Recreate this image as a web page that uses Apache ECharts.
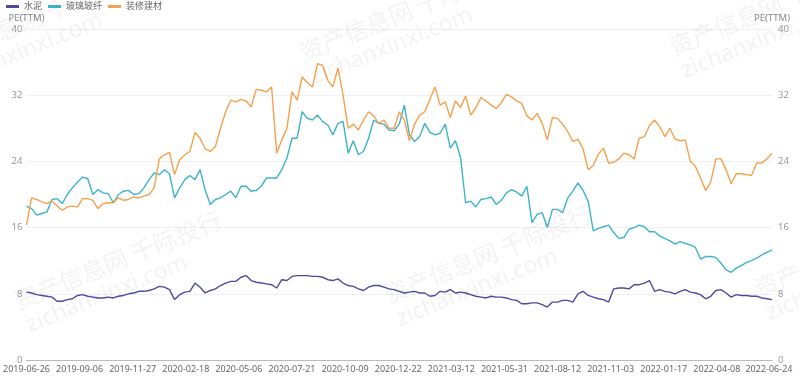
<!DOCTYPE html>
<html><head><meta charset="utf-8">
<script src="https://cdn.jsdelivr.net/npm/echarts@6/dist/echarts.min.js"></script>
<style>html,body{margin:0;padding:0;background:#fff}#c{width:800px;height:377px}</style>
</head><body><div id="c"></div>
<script>
const seriesNames = ['水泥', '玻璃玻纤', '装修建材'];
const startDate = '2019-06-26';
const endDate = '2022-06-29';
const holidays = ['2019-09-13','2019-10-01','2019-10-02','2019-10-03','2019-10-04','2019-10-07',
  '2020-01-01','2020-01-24','2020-01-27','2020-01-28','2020-01-29','2020-01-30','2020-01-31','2020-04-06',
  '2020-05-01','2020-05-04','2020-05-05','2020-06-25','2020-06-26','2020-10-01','2020-10-02','2020-10-05',
  '2020-10-06','2020-10-07','2020-10-08','2021-01-01','2021-02-11','2021-02-12','2021-02-15','2021-02-16',
  '2021-02-17','2021-04-05','2021-05-03','2021-05-04','2021-05-05','2021-06-14','2021-09-20','2021-09-21',
  '2021-10-01','2021-10-04','2021-10-05','2021-10-06','2021-10-07','2022-01-03','2022-01-31','2022-02-01',
  '2022-02-02','2022-02-03','2022-02-04','2022-04-04','2022-04-05','2022-05-02','2022-05-03','2022-05-04','2022-06-03'];
const tickLabels = ['2019-06-26','2019-09-06','2019-11-27','2020-02-18','2020-05-06','2020-07-21','2020-10-09',
  '2020-12-22','2021-03-12','2021-05-31','2021-08-12','2021-11-03','2022-01-17','2022-04-08','2022-06-24'];
const yTicks = [0, 8, 16, 24, 32, 40];
// values sampled every STEP trading days
const STEP = 5;
const cement = [
  8.2, 8.1, 7.9, 7.8, 7.7, 7.6, 7.1, 7.1, 7.3, 7.4,
  7.8, 7.9, 7.7, 7.6, 7.5, 7.5, 7.6, 7.5, 7.7, 7.8,
  8.0, 8.1, 8.3, 8.3, 8.4, 8.6, 8.9, 8.8, 8.5, 7.3,
  7.9, 8.2, 8.3, 9.3, 8.8, 8.1, 8.4, 8.6, 9.0, 9.3,
  9.5, 9.5, 10.0, 10.2, 9.6, 9.4, 9.3, 9.2, 9.1, 8.7,
  9.7, 9.6, 10.1, 10.2, 10.2, 10.2, 10.1, 10.1, 10.0, 9.7,
  9.6, 9.8, 9.3, 9.0, 8.9, 8.6, 8.4, 8.8, 9.0, 9.0,
  8.8, 8.6, 8.5, 8.3, 8.1, 8.2, 8.3, 8.1, 8.1, 7.7,
  7.8, 8.3, 8.2, 8.5, 8.1, 8.2, 8.1, 7.9, 7.7, 7.6,
  7.5, 7.7, 7.6, 7.6, 7.5, 7.3, 7.2, 6.8, 6.8, 6.9,
  6.9, 6.7, 6.4, 7.0, 7.0, 7.2, 7.2, 7.0, 8.0, 8.3,
  7.8, 7.6, 7.4, 7.3, 7.0, 8.6, 8.7, 8.7, 8.6, 9.1,
  9.1, 9.3, 9.6, 8.3, 8.5, 8.3, 8.2, 8.0, 8.3, 8.5,
  8.2, 8.1, 7.9, 7.4, 7.7, 8.4, 8.5, 8.1, 7.6, 7.9,
  7.8, 7.8, 7.7, 7.7, 7.5, 7.4, 7.3];
const glass = [
  18.6, 18.3, 17.5, 17.7, 17.9, 19.4, 19.5, 18.9, 20.0, 20.8,
  21.5, 22.1, 21.9, 20.0, 20.6, 20.2, 20.1, 19.0, 20.0, 20.4,
  20.5, 20.0, 20.1, 20.8, 21.8, 22.6, 22.4, 23.0, 22.5, 19.6,
  20.8, 21.8, 22.3, 21.8, 23.0, 20.5, 18.8, 19.4, 19.6, 20.0,
  20.4, 19.6, 21.0, 21.0, 20.4, 20.5, 21.0, 22.0, 22.0, 22.0,
  23.0, 24.4, 26.8, 26.8, 30.0, 29.2, 29.0, 29.6, 28.8, 28.4,
  27.2, 28.6, 28.8, 25.0, 26.5, 24.8, 25.2, 26.8, 29.0, 28.6,
  28.5, 27.8, 27.7, 28.5, 30.8, 27.2, 26.4, 27.0, 28.6, 27.5,
  27.2, 27.4, 28.5, 25.6, 26.5, 24.5, 19.0, 19.2, 18.5, 19.4,
  19.5, 19.7, 18.8, 19.3, 20.2, 20.6, 20.3, 19.8, 21.0, 16.6,
  17.6, 17.8, 16.0, 18.2, 18.2, 17.8, 19.6, 20.4, 21.4, 20.5,
  19.2, 15.6, 15.9, 16.1, 16.3, 15.4, 14.7, 14.8, 15.8, 16.0,
  16.3, 16.1, 15.5, 15.5, 15.0, 14.7, 14.4, 14.0, 14.3, 14.1,
  13.9, 13.6, 12.2, 12.5, 12.5, 12.4, 11.7, 10.9, 10.6, 11.1,
  11.4, 11.8, 12.0, 12.3, 12.7, 13.0, 13.3];
const decor = [
  16.3, 19.6, 19.4, 19.1, 18.9, 19.2, 18.6, 18.1, 18.5, 18.6,
  18.5, 19.5, 19.5, 19.3, 18.3, 18.9, 19.0, 19.0, 19.6, 19.3,
  19.4, 19.7, 19.6, 19.8, 20.0, 20.8, 24.3, 24.8, 25.1, 22.4,
  24.2, 24.8, 25.2, 27.5, 26.8, 25.5, 25.2, 25.8, 28.0, 30.0,
  31.4, 31.2, 31.5, 31.3, 30.6, 32.7, 32.6, 32.4, 33.0, 25.0,
  26.6, 28.0, 32.4, 31.4, 34.2, 33.5, 33.0, 35.8, 35.6, 33.8,
  33.0, 35.3, 32.0, 28.0, 28.5, 27.8, 29.0, 30.0, 29.5, 28.6,
  29.0, 28.0, 28.0, 30.0, 29.0, 26.5, 28.5, 29.6, 30.0, 31.5,
  33.0, 30.8, 31.2, 29.3, 31.3, 30.5, 31.9, 29.6, 30.5, 31.7,
  31.3, 30.8, 30.4, 31.1, 32.1, 31.8, 31.3, 31.0, 29.5, 29.0,
  29.8, 28.6, 26.6, 29.3, 29.2, 28.5, 27.6, 26.4, 26.7, 25.5,
  23.0, 23.5, 24.9, 25.6, 23.8, 23.9, 24.3, 25.0, 24.8, 24.3,
  26.8, 27.0, 28.3, 29.0, 28.2, 27.0, 28.0, 26.7, 26.5, 26.6,
  24.0, 23.4, 22.0, 20.5, 21.5, 24.3, 24.3, 23.0, 21.3, 22.5,
  22.5, 22.4, 22.3, 23.8, 23.8, 24.3, 25.0];
const colors = ['#4b4c9c', '#3db3cb', '#f5a14e'];

function tradingDays() {
  const out = [], hs = new Set(holidays);
  let t = Date.parse(startDate + 'T00:00:00Z');
  const end = Date.parse(endDate + 'T00:00:00Z');
  while (t <= end) {
    const d = new Date(t), wd = d.getUTCDay(), s = d.toISOString().slice(0, 10);
    if (wd !== 0 && wd !== 6 && !hs.has(s)) out.push(s);
    t += 86400000;
  }
  return out;
}
const dates = tradingDays();
const toPairs = vals => vals.map((v, k) => [dates[Math.min(k * STEP, dates.length - 1)], v]);

const FONT = "'Noto Sans', 'Noto Sans CJK SC', sans-serif";
const wmTiles = [[0, 0], [370, -6], [740, -12], [-85, -242], [285, -248], [655, -254]];
const graphics = [];
wmTiles.forEach(([dx, dy]) => {
  graphics.push({ type: 'text', x: 118 + dx, y: 260 + dy, rotation: 22 * Math.PI / 180, silent: true, z: 100,
    style: { text: '资产信息网 千际投行', font: "24px 'Noto Sans CJK SC'", fill: 'rgba(0,0,0,0.05)', textAlign: 'center', textVerticalAlign: 'middle' } });
  graphics.push({ type: 'text', x: 107 + dx, y: 294 + dy, rotation: 22 * Math.PI / 180, silent: true, z: 100,
    style: { text: 'zichanxinxi.com', font: "23px 'Noto Sans'", fill: 'rgba(0,0,0,0.05)', textAlign: 'center', textVerticalAlign: 'middle' } });
});

const yAxisCommon = {
  type: 'value', min: yTicks[0], max: yTicks[yTicks.length - 1], interval: 8,
  name: 'PE(TTM)', nameLocation: 'end', nameGap: 6,
  nameTextStyle: { color: '#888', fontSize: 9.5, fontFamily: FONT },
  axisLine: { show: false }, axisTick: { show: false },
  axisLabel: { color: '#999', fontSize: 9.5, fontFamily: FONT }
};

const chart = echarts.init(document.getElementById('c'), null, { renderer: 'canvas' });
chart.setOption({
  animation: false,
  color: colors,
  textStyle: { fontFamily: FONT },
  legend: {
    data: seriesNames, left: 6, top: 2, padding: 0, icon: 'rect', itemWidth: 13, itemHeight: 3, itemGap: 6,
    textStyle: { color: '#666', fontSize: 9, fontFamily: FONT }
  },
  grid: { left: 21, right: 28, top: 29, bottom: 17, containLabel: false },
  xAxis: {
    type: 'category', data: dates, boundaryGap: false,
    axisLine: { lineStyle: { color: '#bbb' } }, axisTick: { show: false },
    axisLabel: { color: '#666', fontSize: 9, margin: 5, fontFamily: FONT, hideOverlap: false,
      interval: (i, v) => tickLabels.includes(v) },
    splitLine: { show: false }
  },
  yAxis: [
    Object.assign({}, yAxisCommon, { position: 'left', axisLabel: Object.assign({}, yAxisCommon.axisLabel, { margin: 4 }),
      splitLine: { show: true, lineStyle: { color: '#eef0f6' } } }),
    Object.assign({}, yAxisCommon, { position: 'right', axisLabel: Object.assign({}, yAxisCommon.axisLabel, { margin: 6 }),
      splitLine: { show: false } })
  ],
  series: [
    { name: seriesNames[0], type: 'line', data: toPairs(cement), showSymbol: false, symbol: 'none', lineStyle: { width: 1.4 } },
    { name: seriesNames[1], type: 'line', data: toPairs(glass), showSymbol: false, symbol: 'none', lineStyle: { width: 1.4 } },
    { name: seriesNames[2], type: 'line', data: toPairs(decor), showSymbol: false, symbol: 'none', lineStyle: { width: 1.4 } }
  ],
  graphic: graphics
});
</script></body></html>
